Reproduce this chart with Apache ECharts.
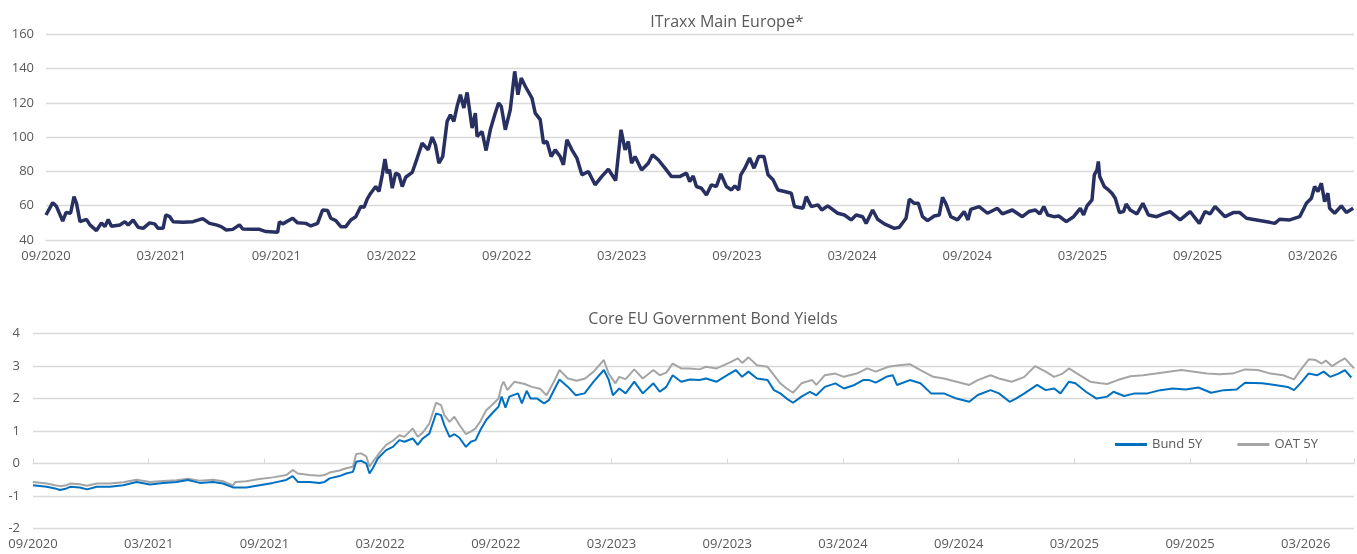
<!DOCTYPE html>
<html>
<head>
<meta charset="utf-8">
<title>ITraxx / Core EU yields</title>
<script src="https://cdn.jsdelivr.net/npm/echarts@6/dist/echarts.min.js"></script>
<style>
    html, body { margin: 0; padding: 0; background: #fff; }
    #chart { width: 1357px; height: 554px; }
</style>
</head>
<body>
<div id="chart"></div>
<script>
// x values are months counted from 09/2020
var startYear = 2020;
var startMonth = 9;

// ITraxx Main Europe*
var itraxxMonths = [0, 0.35, 0.55, 0.87, 1.04, 1.28, 1.46, 1.59, 1.77, 2.11, 2.29, 2.63, 2.89, 3.07, 3.24, 3.41, 3.85, 4.11, 4.28, 4.54, 4.8, 5.06, 5.4, 5.66, 5.84, 6.1, 6.24, 6.45, 6.62, 7.14, 7.66, 8.17, 8.52, 8.87, 9.13, 9.39, 9.73, 10.08, 10.25, 10.77, 11.12, 11.46, 12.07, 12.16, 12.33, 12.85, 13.11, 13.54, 13.8, 14.15, 14.41, 14.67, 14.84, 15.1, 15.36, 15.62, 15.88, 16.14, 16.4, 16.57, 16.74, 16.92, 17.18, 17.35, 17.52, 17.66, 17.78, 17.9, 18.04, 18.22, 18.39, 18.56, 18.74, 19.08, 19.34, 19.6, 19.91, 20.12, 20.29, 20.47, 20.67, 20.9, 21.07, 21.25, 21.42, 21.59, 21.77, 21.94, 22.2, 22.37, 22.46, 22.72, 22.93, 23.15, 23.38, 23.58, 23.72, 23.93, 24.19, 24.42, 24.59, 24.76, 24.97, 25.32, 25.49, 25.75, 25.92, 26.1, 26.32, 26.53, 26.79, 26.96, 27.14, 27.4, 27.66, 27.92, 28.26, 28.61, 28.95, 29.3, 29.68, 29.96, 30.17, 30.34, 30.51, 30.69, 31.03, 31.38, 31.6, 31.9, 32.25, 32.59, 33.02, 33.37, 33.54, 33.72, 33.89, 34.15, 34.41, 34.67, 34.93, 35.16, 35.45, 35.71, 35.89, 36.09, 36.2, 36.41, 36.66, 36.89, 37.13, 37.41, 37.62, 37.88, 38.14, 38.48, 38.83, 39, 39.44, 39.61, 39.87, 40.22, 40.42, 40.73, 41.25, 41.6, 41.95, 42.21, 42.55, 42.73, 43.07, 43.33, 43.68, 44.2, 44.46, 44.81, 44.98, 45.24, 45.45, 45.67, 45.93, 46.28, 46.54, 46.71, 46.88, 47.14, 47.49, 47.84, 48.04, 48.18, 48.62, 49.05, 49.57, 49.83, 50.35, 50.87, 51.21, 51.55, 51.78, 51.99, 52.19, 52.51, 52.77, 53.16, 53.54, 53.89, 54.06, 54.24, 54.5, 54.62, 54.76, 54.83, 54.9, 55.14, 55.36, 55.54, 55.71, 55.93, 56.14, 56.28, 56.49, 56.84, 57.15, 57.44, 57.87, 58.22, 58.57, 59.09, 59.61, 60.09, 60.39, 60.65, 60.91, 61.43, 61.86, 62.2, 62.55, 63.07, 63.76, 64.02, 64.28, 64.8, 65.32, 65.67, 65.93, 66.1, 66.27, 66.45, 66.62, 66.79, 66.88, 67.14, 67.49, 67.75, 68.11];
var itraxxValues = [54.6, 61.8, 59.5, 51, 56, 55.6, 65.3, 61.4, 50.7, 52, 48.8, 45.5, 50, 47.8, 52, 48, 48.8, 50.7, 48.8, 51.7, 47.4, 46.8, 50, 49.4, 46.8, 46.8, 54.6, 53.6, 50.7, 50.3, 50.7, 52.5, 49.7, 48.8, 47.8, 45.8, 46.2, 48.8, 46.4, 46.2, 46.2, 44.9, 44.5, 50.7, 49.4, 52.7, 50, 49.7, 48.2, 49.7, 57.5, 57.2, 52.7, 51.3, 47.8, 47.8, 51.7, 53.6, 59.5, 59.1, 64, 67.3, 71.2, 68.3, 78, 87.2, 79, 81, 70.2, 79, 78, 71.2, 76.6, 79.4, 87.8, 96.5, 92.6, 100, 95.5, 84.8, 88.7, 109.2, 113.1, 109.2, 118, 124.8, 117, 126.1, 105.3, 114, 100.4, 103.3, 92.2, 104.3, 113.1, 119.9, 118, 104.3, 116, 138.4, 124.8, 134.5, 129.7, 122.8, 114, 110.2, 96.5, 97.5, 88.7, 92.6, 88.7, 83.9, 98.5, 92.6, 87.8, 78, 80, 72.2, 77, 81.3, 74.7, 104.3, 92.6, 97.5, 84.8, 88.7, 80.9, 84.8, 89.7, 86.8, 81.9, 77, 77, 79, 74.1, 77.4, 71.2, 70.2, 66.3, 72.2, 71.2, 78.6, 71.2, 69.2, 71.6, 69.2, 78, 81.9, 87.8, 81.9, 88.7, 88.7, 78, 75.1, 69.2, 68.3, 67.3, 59.5, 58.5, 65.3, 59.5, 60.5, 57.5, 59.9, 55.6, 54.6, 51.7, 54.6, 53.6, 49.7, 57.5, 52.1, 49.4, 46.8, 47.4, 52.7, 63.8, 61.4, 61.4, 53.6, 51.3, 54, 54.6, 64.9, 61.4, 53.6, 51.7, 56.6, 51.7, 57.9, 59.5, 55.6, 58.5, 55.2, 57.5, 53.6, 56.6, 57.5, 55.2, 59.5, 54.6, 53.6, 54, 50.7, 53.6, 58.5, 54.6, 59.9, 63.4, 78, 80.9, 85.8, 77, 71.2, 69.2, 67.3, 64.4, 56, 56.6, 61, 57.5, 55.2, 61.4, 54.6, 53.6, 55.2, 56.6, 51.7, 56.6, 49.7, 56.6, 55.2, 59.5, 53.6, 56, 56, 52.7, 51.7, 50.3, 49.7, 52.1, 51.7, 53.6, 61.4, 64.4, 71.2, 68.3, 73.1, 62.4, 67.3, 58.5, 55.6, 59.9, 56, 58.5];

// Bund 5Y
var bundMonths = [0, 0.71, 1.14, 1.4, 1.74, 1.92, 2.43, 2.81, 3.3, 3.99, 4.68, 5.37, 6.06, 6.75, 7.44, 8.04, 8.64, 9.34, 9.85, 10.37, 11.06, 11.75, 12.44, 13.13, 13.47, 13.73, 14.34, 14.86, 15.12, 15.38, 15.9, 16.24, 16.59, 16.76, 17.02, 17.28, 17.45, 17.62, 17.88, 18.31, 18.66, 19, 19.26, 19.69, 19.95, 20.21, 20.55, 20.9, 21.16, 21.33, 21.6, 21.85, 22.1, 22.45, 22.7, 22.95, 23.2, 23.5, 23.8, 24.14, 24.3, 24.5, 24.7, 25.15, 25.35, 25.6, 25.8, 26.15, 26.5, 26.75, 27.03, 27.3, 27.74, 28.15, 28.6, 29.07, 29.6, 29.85, 30.07, 30.4, 30.73, 31.18, 31.62, 32.17, 32.5, 32.84, 33.17, 33.61, 34.06, 34.56, 34.9, 35.45, 36, 36.44, 36.77, 37.1, 37.54, 38.09, 38.42, 38.75, 39.08, 39.41, 39.85, 40.29, 40.62, 41.06, 41.61, 42.05, 42.6, 43.04, 43.37, 43.7, 44.25, 44.58, 44.8, 45.47, 46.02, 46.57, 47.23, 47.89, 48.55, 48.99, 49.65, 50.09, 50.64, 50.97, 51.41, 52.07, 52.51, 52.95, 53.28, 53.72, 54.05, 54.6, 55.15, 55.7, 56.03, 56.58, 57.13, 57.79, 58.45, 59.11, 59.77, 60.43, 61.09, 61.75, 62.41, 62.85, 63.74, 64.4, 65.06, 65.39, 65.72, 66.14, 66.6, 66.93, 67.26, 67.7, 68.03, 68.36];
var bundValues = [-0.67, -0.72, -0.77, -0.82, -0.77, -0.72, -0.74, -0.8, -0.72, -0.72, -0.67, -0.57, -0.65, -0.6, -0.57, -0.51, -0.6, -0.57, -0.62, -0.74, -0.74, -0.67, -0.6, -0.51, -0.39, -0.57, -0.57, -0.6, -0.57, -0.46, -0.39, -0.31, -0.26, 0.05, 0.08, 0, -0.31, -0.15, 0.15, 0.41, 0.51, 0.72, 0.67, 0.77, 0.57, 0.77, 0.92, 1.54, 1.49, 1.18, 0.82, 0.9, 0.8, 0.51, 0.67, 0.72, 1.03, 1.34, 1.54, 1.75, 2.06, 1.72, 2.06, 2.16, 1.85, 2.24, 2.0, 2.0, 1.85, 1.95, 2.28, 2.59, 2.36, 2.1, 2.16, 2.52, 2.88, 2.59, 2.1, 2.31, 2.16, 2.52, 2.16, 2.47, 2.21, 2.36, 2.72, 2.52, 2.59, 2.57, 2.62, 2.52, 2.72, 2.88, 2.67, 2.83, 2.62, 2.57, 2.26, 2.16, 2.0, 1.87, 2.06, 2.21, 2.1, 2.36, 2.47, 2.31, 2.42, 2.57, 2.57, 2.49, 2.67, 2.72, 2.42, 2.57, 2.47, 2.16, 2.16, 2.0, 1.9, 2.11, 2.26, 2.16, 1.9, 2.0, 2.16, 2.42, 2.26, 2.31, 2.16, 2.52, 2.47, 2.21, 2.0, 2.06, 2.21, 2.08, 2.16, 2.16, 2.26, 2.31, 2.28, 2.34, 2.18, 2.26, 2.28, 2.49, 2.47, 2.42, 2.36, 2.26, 2.47, 2.77, 2.72, 2.83, 2.67, 2.77, 2.88, 2.65];

// OAT 5Y
var oatMonths = [0, 0.71, 1.14, 1.4, 1.74, 1.92, 2.43, 2.81, 3.3, 3.99, 4.68, 5.37, 6.06, 6.75, 7.44, 8.04, 8.64, 9.34, 9.85, 10.37, 10.5, 11.06, 11.75, 12.44, 13.13, 13.47, 13.73, 14.34, 14.86, 15.12, 15.38, 15.9, 16.24, 16.59, 16.76, 17.02, 17.28, 17.45, 17.62, 17.88, 18.31, 18.66, 19, 19.26, 19.69, 19.95, 20.21, 20.55, 20.9, 21.16, 21.33, 21.6, 21.85, 22.1, 22.45, 22.7, 22.95, 23.2, 23.5, 23.8, 24.14, 24.3, 24.4, 24.6, 24.97, 25.5, 25.86, 26.3, 26.63, 26.97, 27.3, 27.74, 28.19, 28.63, 29.07, 29.6, 29.85, 30.2, 30.4, 30.73, 31.18, 31.62, 32.17, 32.5, 32.84, 33.17, 33.61, 34.06, 34.56, 34.9, 35.45, 36.2, 36.55, 36.77, 37.1, 37.54, 38.09, 38.42, 38.75, 39.08, 39.41, 39.85, 40.4, 40.62, 41.06, 41.61, 42.05, 42.71, 43.26, 43.7, 44.36, 44.9, 45.47, 46.02, 46.68, 47.23, 47.89, 48.55, 48.99, 49.65, 50.09, 50.75, 51.41, 51.96, 52.51, 52.95, 53.39, 53.72, 54.27, 54.82, 55.37, 55.7, 56.25, 56.91, 57.57, 58.23, 58.89, 59.55, 60.21, 60.87, 61.53, 62.19, 62.85, 63.51, 64.17, 64.83, 65.39, 65.72, 66.16, 66.49, 66.82, 67.04, 67.37, 67.7, 68.03, 68.5];
var oatValues = [-0.57, -0.62, -0.67, -0.7, -0.67, -0.62, -0.64, -0.69, -0.62, -0.62, -0.58, -0.5, -0.57, -0.54, -0.52, -0.47, -0.53, -0.5, -0.55, -0.68, -0.57, -0.55, -0.48, -0.43, -0.36, -0.2, -0.31, -0.36, -0.38, -0.36, -0.28, -0.22, -0.15, -0.1, 0.29, 0.31, 0.22, -0.1, 0.05, 0.26, 0.57, 0.7, 0.87, 0.82, 1.08, 0.82, 0.95, 1.23, 1.87, 1.8, 1.49, 1.28, 1.44, 1.2, 0.9, 0.98, 1.08, 1.3, 1.64, 1.8, 2.0, 2.4, 2.52, 2.26, 2.52, 2.45, 2.36, 2.3, 2.1, 2.47, 2.88, 2.62, 2.55, 2.62, 2.83, 3.19, 2.77, 2.47, 2.67, 2.6, 2.9, 2.62, 2.88, 2.72, 2.8, 3.08, 2.93, 2.93, 2.9, 2.98, 2.93, 3.13, 3.24, 3.1, 3.27, 3.03, 2.98, 2.72, 2.47, 2.31, 2.18, 2.47, 2.57, 2.42, 2.72, 2.77, 2.67, 2.77, 2.93, 2.83, 2.98, 3.03, 3.06, 2.88, 2.67, 2.62, 2.52, 2.42, 2.57, 2.72, 2.62, 2.52, 2.67, 3.0, 2.83, 2.67, 2.77, 2.93, 2.72, 2.52, 2.47, 2.45, 2.57, 2.69, 2.72, 2.77, 2.83, 2.88, 2.83, 2.77, 2.75, 2.77, 2.9, 2.88, 2.77, 2.72, 2.59, 2.88, 3.21, 3.19, 3.08, 3.17, 3.0, 3.13, 3.24, 2.93];

function pairs(xs, ys) {
    var out = [];
    for (var i = 0; i < xs.length; i++) {
        out.push([xs[i], ys[i]]);
    }
    return out;
}

// month index -> MM/YYYY, only every 6 months
function monthLabel(v) {
    if (Math.abs(v % 6) > 0.001) return '';
    var n = startMonth - 1 + Math.round(v);
    var y = startYear + Math.floor(n / 12);
    var m = (n % 12) + 1;
    return (m < 10 ? '0' + m : '' + m) + '/' + y;
}

var textColor = '#595959';
var gridColor = '#D9D9D9';
var font = 'Open Sans';

var myChart = echarts.init(document.getElementById('chart'));

var option = {
    animation: false,
    textStyle: { fontFamily: font },
    title: [{
        text: 'ITraxx Main Europe*',
        left: 727, top: 14, padding: 0,
        textAlign: 'center',
        textStyle: { fontFamily: font, fontSize: 16, fontWeight: 'normal', color: textColor }
    }, {
        text: 'Core EU Government Bond Yields',
        left: 713, top: 311, padding: 0,
        textAlign: 'center',
        textStyle: { fontFamily: font, fontSize: 16, fontWeight: 'normal', color: textColor }
    }],
    legend: {
        data: ['Bund 5Y', 'OAT 5Y'],
        left: 1115, top: 438, padding: 0,
        icon: 'rect', itemWidth: 32, itemHeight: 3, itemGap: 35,
        textStyle: { fontFamily: font, fontSize: 13, color: textColor }
    },
    grid: [
        { left: 46, right: 0, top: 34.3, bottom: 314 },
        { left: 33, right: 0, top: 333.7, bottom: 25.7 }
    ],
    xAxis: [{
        // top chart
        type: 'value', gridIndex: 0, min: 0, max: 68.15, interval: 6,
        splitLine: { show: false },
        axisLine: { lineStyle: { color: gridColor } },
        axisTick: { show: false },
        axisLabel: { color: textColor, fontSize: 13, margin: 10, formatter: monthLabel }
    }, {
        // bottom chart, labels at the bottom
        type: 'value', gridIndex: 1, min: 0, max: 68.5, interval: 6,
        position: 'bottom',
        splitLine: { show: false },
        axisLine: { show: false, onZero: false },
        axisTick: { show: false },
        axisLabel: { color: textColor, fontSize: 13, margin: 9, formatter: monthLabel }
    }, {
        // bottom chart, axis line crossing at 0
        type: 'value', gridIndex: 1, min: 0, max: 68.5, interval: 6,
        splitLine: { show: false },
        axisLine: { show: true, onZero: true, lineStyle: { color: gridColor } },
        axisTick: { show: true, length: 5, lineStyle: { color: gridColor } },
        axisLabel: { show: false }
    }],
    yAxis: [{
        type: 'value', gridIndex: 0, min: 40, max: 160, interval: 20,
        axisLine: { show: false },
        axisTick: { show: false },
        splitLine: { lineStyle: { color: gridColor, width: 1.3 } },
        axisLabel: { color: textColor, fontSize: 13, margin: 12 }
    }, {
        type: 'value', gridIndex: 1, min: -2, max: 4, interval: 1,
        axisLine: { show: false },
        axisTick: { show: false },
        splitLine: { lineStyle: { color: gridColor, width: 1.3 } },
        axisLabel: { color: textColor, fontSize: 13, margin: 13 }
    }],
    series: [{
        name: 'ITraxx Main Europe*',
        type: 'line', xAxisIndex: 0, yAxisIndex: 0,
        showSymbol: false,
        lineStyle: { color: '#283062', width: 3.5 },
        itemStyle: { color: '#283062' },
        data: pairs(itraxxMonths, itraxxValues)
    }, {
        name: 'OAT 5Y',
        type: 'line', xAxisIndex: 1, yAxisIndex: 1,
        showSymbol: false,
        lineStyle: { color: '#A5A5A5', width: 2 },
        itemStyle: { color: '#A5A5A5' },
        data: pairs(oatMonths, oatValues)
    }, {
        name: 'Bund 5Y',
        type: 'line', xAxisIndex: 1, yAxisIndex: 1,
        showSymbol: false,
        lineStyle: { color: '#0070C0', width: 2 },
        itemStyle: { color: '#0070C0' },
        data: pairs(bundMonths, bundValues)
    }]
};

myChart.setOption(option);
</script>
</body>
</html>
